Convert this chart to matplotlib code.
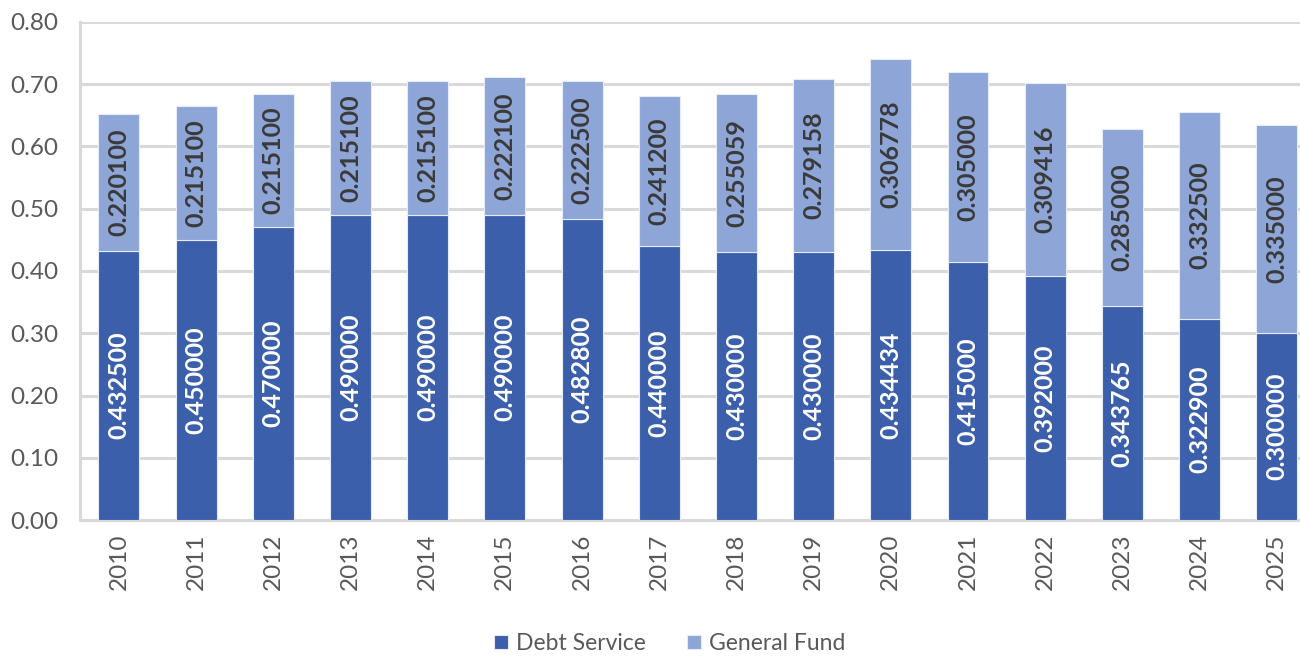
import matplotlib.pyplot as plt
import numpy as np

years = ['2010', '2011', '2012', '2013', '2014', '2015', '2016', '2017',
         '2018', '2019', '2020', '2021', '2022', '2023', '2024', '2025']
debt_service = [0.432500, 0.450000, 0.470000, 0.490000, 0.490000, 0.490000,
                0.482800, 0.440000, 0.430000, 0.430000, 0.434434, 0.415000,
                0.392000, 0.343765, 0.322900, 0.300000]
general_fund = [0.220100, 0.215100, 0.215100, 0.215100, 0.215100, 0.222100,
                0.222500, 0.241200, 0.255059, 0.279158, 0.306778, 0.305000,
                0.309416, 0.285000, 0.332500, 0.335000]

plt.rcParams['font.family'] = ['Lato', 'DejaVu Sans']

dark = '#3B5FAA'
light = '#8EA5D7'
grid_grey = '#D9D9D9'
text_grey = '#595959'

fig = plt.figure(figsize=(13, 6.58), dpi=100)
# plot area runs past the right edge of the picture, like the reference
ax = fig.add_axes([0.0618, 0.2097, 0.950, 0.7569])

x = np.arange(len(years))
width = 0.53
b1 = ax.bar(x, debt_service, width, color=dark, edgecolor='#E6ECF7',
            linewidth=0.8, label='Debt Service', zorder=3)
b2 = ax.bar(x, general_fund, width, bottom=debt_service, color=light,
            edgecolor='#E6ECF7', linewidth=0.8, label='General Fund', zorder=3)

# value labels, rotated, centred in each segment
for i in range(len(years)):
    ax.text(x[i], debt_service[i] / 2, f'{debt_service[i]:.6f}', rotation=90,
            ha='center', va='center', color='white', fontsize=18,
            fontweight='bold', zorder=4)
    ax.text(x[i], debt_service[i] + general_fund[i] / 2, f'{general_fund[i]:.6f}',
            rotation=90, ha='center', va='center', color='#3A3A3A',
            fontsize=18, fontweight='bold', zorder=4)

ax.set_xlim(-0.5, len(years) - 0.5)
ax.set_ylim(0, 0.80)
ax.set_yticks(np.arange(0, 0.81, 0.10))
ax.set_yticklabels([f'{v:.2f}' for v in np.arange(0, 0.81, 0.10)])
ax.set_xticks(x)
ax.set_xticklabels(years, rotation=90)

ax.yaxis.grid(True, color=grid_grey, linewidth=2.2, zorder=0)
ax.set_axisbelow(True)
for side in ['top', 'right']:
    ax.spines[side].set_visible(False)
for side in ['left', 'bottom']:
    ax.spines[side].set_color(grid_grey)
    ax.spines[side].set_linewidth(2.2)
ax.tick_params(axis='both', length=0, labelsize=17.5, labelcolor=text_grey)
ax.tick_params(axis='x', pad=10)
ax.tick_params(axis='y', pad=16)

fig.legend(handles=[b1, b2], loc='center', bbox_to_anchor=(0.515, 0.022),
           ncol=2, frameon=False, fontsize=16.5, labelcolor=text_grey,
           handlelength=0.6, handleheight=0.6, handletextpad=0.35,
           columnspacing=1.8)

plt.savefig('out.png', dpi=100)
plt.close()
